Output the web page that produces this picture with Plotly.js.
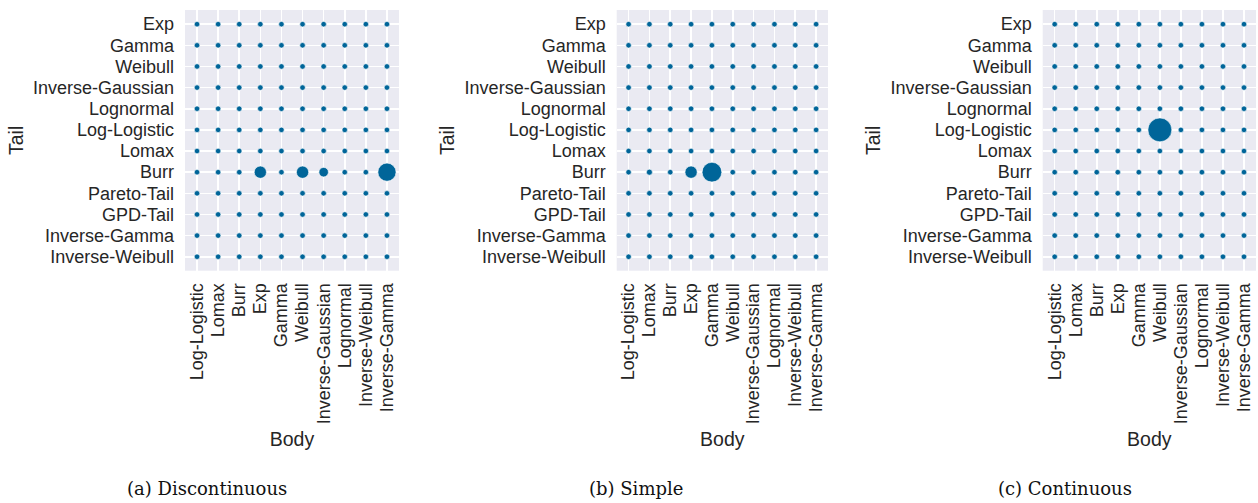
<!DOCTYPE html>
<html>
<head>
<meta charset="utf-8">
<script src="https://cdn.plot.ly/plotly-3.0.1.min.js"></script>
<style>html,body{margin:0;padding:0;background:#fff;}#chart{width:1258px;height:503px;}</style>
</head>
<body>
<div id="chart"></div>
<script>
// Categories
const bodies = ['Log-Logistic','Lomax','Burr','Exp','Gamma','Weibull','Inverse-Gaussian','Lognormal','Inverse-Weibull','Inverse-Gamma'];
const tails = ['Exp','Gamma','Weibull','Inverse-Gaussian','Lognormal','Log-Logistic','Lomax','Burr','Pareto-Tail','GPD-Tail','Inverse-Gamma','Inverse-Weibull'];

// Share of selections per (body, tail) combination; unlisted combinations are 0
const discBody  = ['Exp','Weibull','Inverse-Gaussian','Inverse-Gamma'];
const discTail  = ['Burr','Burr','Burr','Burr'];
const discShare = [0.2, 0.2, 0.1, 0.5];

const simpleBody  = ['Lomax','Exp','Gamma'];
const simpleTail  = ['Burr','Burr','Burr'];
const simpleShare = [0.01, 0.2, 0.6];

const contBody  = ['Weibull'];
const contTail  = ['Log-Logistic'];
const contShare = [0.9];

const captions = ['(a) Discontinuous', '(b) Simple', '(c) Continuous'];

const COLOR = 'rgb(0,101,153)';
function grid(bList, tList, sList, xa, ya) {
  const x = [], y = [], s = [];
  for (const t of tails) {
    for (const b of bodies) {
      let v = 0;
      for (let i = 0; i < bList.length; i++) if (bList[i] === b && tList[i] === t) v = sList[i];
      x.push(b); y.push(t); s.push(Math.sqrt(30 + 600 * v));
    }
  }
  return {type: 'scatter', mode: 'markers', x: x, y: y, xaxis: xa, yaxis: ya,
    marker: {color: COLOR, opacity: 1, size: s, line: {color: 'white', width: 0.6}},
    hoverinfo: 'x+y', showlegend: false};
}

const data = [
  grid(discBody, discTail, discShare, 'x', 'y'),
  grid(simpleBody, simpleTail, simpleShare, 'x2', 'y2'),
  grid(contBody, contTail, contShare, 'x3', 'y3')
];

const W = 1258, H = 503;
const plotTop = 10, plotBottom = 270.7;
const ydom = [1 - plotBottom / H, 1 - plotTop / H];
const xdoms = [[185, 399], [616.7, 828], [1042.7, 1256]];
const tickFont = {family: 'Liberation Sans, Arial, sans-serif', size: 18, color: '#262626'};
const titleFont = {family: 'Liberation Sans, Arial, sans-serif', size: 19.5, color: '#262626'};

const layout = {
  width: W, height: H,
  margin: {l: 0, r: 0, t: 0, b: 0},
  paper_bgcolor: 'white',
  plot_bgcolor: '#EAEAF2',
  annotations: [],
  showlegend: false
};
for (let i = 0; i < 3; i++) {
  const sx = i === 0 ? '' : String(i + 1);
  layout['xaxis' + sx] = {
    domain: [xdoms[i][0] / W, xdoms[i][1] / W], anchor: 'y' + sx,
    type: 'category', categoryorder: 'array', categoryarray: bodies,
    tickmode: 'array', tickvals: bodies, ticktext: bodies,
    range: [-0.57, 9.57], tickangle: -90, tickfont: tickFont, ticklabelstandoff: 8,
    showgrid: true, gridcolor: 'white', gridwidth: 1.6, zeroline: false,
    showline: false, ticks: '', ticklen: 0, automargin: false,
    title: {text: 'Body', font: titleFont, standoff: 8}
  };
  layout['yaxis' + sx] = {
    domain: ydom, anchor: 'x' + sx,
    type: 'category', categoryorder: 'array', categoryarray: tails,
    tickmode: 'array', tickvals: tails, ticktext: tails,
    range: [11.66, -0.67], tickfont: tickFont, ticklabelstandoff: 10,
    showgrid: true, gridcolor: 'white', gridwidth: 1.6, zeroline: false,
    showline: false, ticks: '', ticklen: 0, automargin: false,
    title: {text: 'Tail', font: titleFont, standoff: 4}
  };
  layout.annotations.push({
    text: captions[i], xref: 'paper', yref: 'paper',
    x: [207, 636, 1065][i] / W, y: 1 - 488 / H, xanchor: 'center', yanchor: 'middle',
    showarrow: false, font: {family: 'DejaVu Serif, serif', size: 18, color: '#111'}
  });
}

Plotly.newPlot('chart', data, layout, {displayModeBar: false, staticPlot: true});
</script>
</body>
</html>
